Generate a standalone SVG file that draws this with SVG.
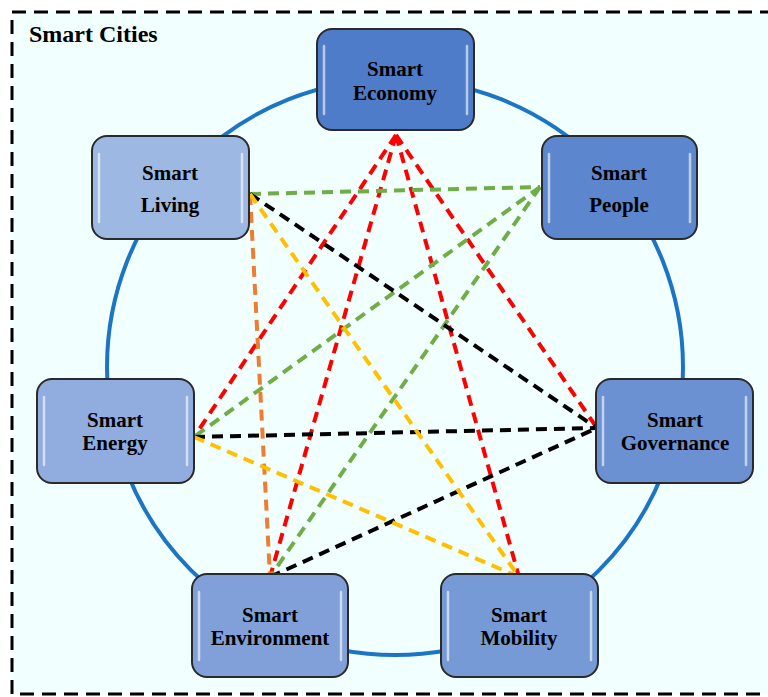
<svg xmlns="http://www.w3.org/2000/svg" width="768" height="697" viewBox="0 0 768 697">
<defs>
<style>
.frame{fill:#F2FFFF;stroke:#000;stroke-width:3;stroke-dasharray:14,8}
.ring{fill:none;stroke:#1B75C4;stroke-width:4}
.box{stroke:#2a2a2a;stroke-width:2}
.hl{fill:none;stroke:#fff;stroke-opacity:0.6;stroke-width:2.5;stroke-linecap:round}
.lbl{font-family:"Liberation Serif","Times New Roman",serif;font-weight:bold;font-size:21px;fill:#000;text-anchor:middle}
.c{fill:none;stroke-width:4;stroke-dasharray:11,7}
.red{stroke:#FF0000}.grn{stroke:#70AD47}.blk{stroke:#000}.org{stroke:#ED7D31}.yel{stroke:#FFC000}
</style>
</defs>
<rect class="frame" x="12" y="12" width="770" height="682"/>
<text x="29" y="42" font-family="Liberation Serif, Times New Roman, serif" font-weight="bold" font-size="24" fill="#000">Smart Cities</text>
<circle class="ring" cx="395" cy="367" r="288"/>
<g id="connectors">
<line class="c red" x1="396" y1="135" x2="194" y2="437"/>
<line class="c red" x1="396" y1="135" x2="270" y2="577"/>
<line class="c red" x1="396" y1="135" x2="519" y2="577"/>
<line class="c red" x1="396" y1="135" x2="597" y2="428"/>
<line class="c grn" x1="250" y1="194" x2="540" y2="187"/>
<line class="c grn" x1="540" y1="187" x2="194" y2="437"/>
<line class="c grn" x1="540" y1="187" x2="270" y2="577"/>
<line class="c blk" x1="250" y1="194" x2="597" y2="428"/>
<line class="c blk" x1="194" y1="437" x2="597" y2="428"/>
<line class="c blk" x1="270" y1="577" x2="597" y2="428"/>
<line class="c org" x1="250" y1="194" x2="270" y2="577"/>
<line class="c yel" x1="250" y1="194" x2="519" y2="577"/>
<line class="c yel" x1="194" y1="437" x2="519" y2="577"/>
</g>
<g id="economy">
<rect class="box" x="317" y="29" width="157" height="101" rx="15" fill="#4F7CC9"/>
<path class="hl" d="M324 46 V114 M467 46 V114"/>
<text class="lbl" x="395" y="76">Smart</text>
<text class="lbl" x="395" y="100">Economy</text>
</g>
<g id="living">
<rect class="box" x="92" y="136" width="157" height="103" rx="15" fill="#9DB8E3"/>
<path class="hl" d="M99 154 V222 M242 154 V222"/>
<text class="lbl" x="170" y="180">Smart</text>
<text class="lbl" x="170" y="212">Living</text>
</g>
<g id="people">
<rect class="box" x="542" y="136" width="155" height="103" rx="15" fill="#5C87CE"/>
<path class="hl" d="M549 154 V222 M690 154 V222"/>
<text class="lbl" x="619" y="180">Smart</text>
<text class="lbl" x="619" y="212">People</text>
</g>
<g id="energy">
<rect class="box" x="37" y="379" width="157" height="104" rx="15" fill="#91ACDE"/>
<path class="hl" d="M44 397 V465 M187 397 V465"/>
<text class="lbl" x="115" y="427">Smart</text>
<text class="lbl" x="115" y="450">Energy</text>
</g>
<g id="governance">
<rect class="box" x="596" y="379" width="157" height="104" rx="15" fill="#6C91D2"/>
<path class="hl" d="M603 397 V465 M746 397 V465"/>
<text class="lbl" x="675" y="427">Smart</text>
<text class="lbl" x="675" y="450">Governance</text>
</g>
<g id="environment">
<rect class="box" x="192" y="574" width="156" height="103" rx="15" fill="#81A0D9"/>
<path class="hl" d="M199 592 V660 M341 592 V660"/>
<text class="lbl" x="270" y="622">Smart</text>
<text class="lbl" x="270" y="645">Environment</text>
</g>
<g id="mobility">
<rect class="box" x="441" y="574" width="157" height="103" rx="15" fill="#769AD5"/>
<path class="hl" d="M448 592 V660 M591 592 V660"/>
<text class="lbl" x="519" y="622">Smart</text>
<text class="lbl" x="519" y="645">Mobility</text>
</g>
</svg>
